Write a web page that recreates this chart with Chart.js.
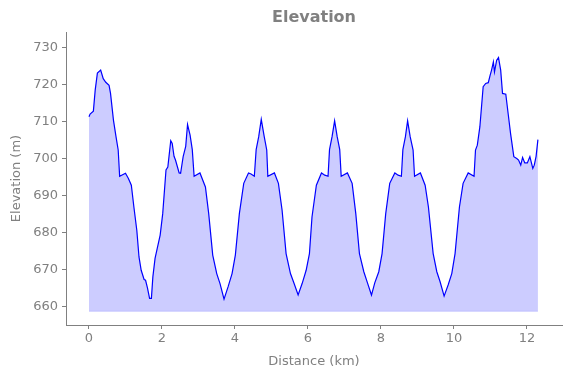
<!DOCTYPE html>
<html>
<head>
<meta charset="utf-8">
<script src="https://cdn.jsdelivr.net/npm/chart.js@4/dist/chart.umd.min.js"></script>
<style>
  html, body { margin: 0; padding: 0; background: #fff; }
  canvas { display: block; }
</style>
</head>
<body>
<canvas id="elevChart" width="571" height="378"></canvas>
<script>
// Distance along the track (km) and elevation (m)
var distances = [
  0.00, 0.03, 0.12, 0.17, 0.23, 0.32, 0.39, 0.46, 0.55, 0.59, 0.67, 0.74, 0.80, 0.84,
  1.00, 1.08, 1.16, 1.23, 1.31, 1.37, 1.43, 1.51, 1.55, 1.60, 1.66, 1.71, 1.75, 1.81,
  1.87, 1.95, 2.02, 2.11, 2.16, 2.24, 2.28, 2.33, 2.37, 2.47, 2.51, 2.58, 2.65, 2.70,
  2.77, 2.83, 2.88, 3.04, 3.19, 3.28, 3.39, 3.50, 3.59, 3.70, 3.81, 3.92, 4.01, 4.12,
  4.24, 4.37, 4.44, 4.53, 4.58, 4.65, 4.72, 4.80, 4.87, 4.90, 5.08, 5.19, 5.29, 5.40,
  5.52, 5.62, 5.73, 5.84, 5.95, 6.04, 6.11, 6.23, 6.37, 6.46, 6.55, 6.59, 6.66, 6.73,
  6.80, 6.87, 6.91, 7.08, 7.21, 7.31, 7.41, 7.53, 7.63, 7.74, 7.83, 7.94, 8.03, 8.13,
  8.24, 8.38, 8.47, 8.56, 8.60, 8.67, 8.73, 8.80, 8.88, 8.92, 9.08, 9.21, 9.30, 9.43,
  9.53, 9.62, 9.73, 9.84, 9.94, 10.03, 10.15, 10.25, 10.39, 10.55, 10.59, 10.64, 10.71,
  10.80, 10.87, 10.94, 10.99, 11.03, 11.08, 11.11, 11.17, 11.22, 11.28, 11.33, 11.42,
  11.49, 11.55, 11.64, 11.72, 11.77, 11.83, 11.88, 11.94, 12.01, 12.08, 12.16, 12.20,
  12.25, 12.30
];
var elevations = [
  711.2, 711.9, 712.7, 718.4, 723.0, 723.8, 721.5, 720.5, 719.7, 717.5, 710.3, 705.8, 702.2, 695.1,
  695.9, 694.5, 692.7, 686.8, 680.5, 673.3, 669.7, 667.2, 667.0, 665.0, 662.1, 662.1, 667.9, 672.9,
  675.6, 679.2, 685.0, 696.8, 697.6, 704.7, 704.0, 700.5, 699.5, 696.0, 695.9, 700.4, 703.2, 709.1,
  706.2, 702.3, 695.1, 696.0, 692.2, 685.0, 673.8, 668.8, 666.1, 661.9, 665.2, 668.8, 673.8, 685.0,
  693.2, 696.0, 695.7, 695.1, 702.3, 705.8, 710.5, 705.9, 702.2, 695.1, 696.0, 693.2, 686.0, 674.2,
  668.8, 666.1, 663.0, 666.1, 669.7, 674.2, 684.1, 692.7, 696.0, 695.4, 695.1, 702.3, 705.8, 710.1,
  705.8, 702.3, 695.1, 696.0, 693.2, 685.0, 674.2, 669.3, 666.3, 663.0, 666.3, 669.3, 674.2, 685.0,
  693.2, 696.0, 695.4, 695.1, 702.3, 705.8, 710.1, 705.8, 702.2, 695.1, 696.0, 692.7, 686.8, 674.2,
  669.3, 666.6, 662.7, 665.7, 668.8, 674.2, 686.8, 693.2, 696.0, 695.1, 702.2, 703.5, 708.5,
  719.3, 720.2, 720.4, 722.4, 723.8, 726.0, 723.3, 726.5, 727.2, 723.8, 717.5, 717.3,
  711.6, 706.7, 700.4, 699.9, 699.5, 698.1, 700.2, 698.7, 698.7, 700.4, 697.2, 698.1,
  700.5, 705.0
];
var fillBase = 658.6;
var xTicks = [0, 2, 4, 6, 8, 10, 12];
var yTicks = [660, 670, 680, 690, 700, 710, 720, 730];

var grey = '#808080';
var fontFamily = 'DejaVu Sans';

var points = distances.map(function(d, i) {
  return { x: d, y: elevations[i] };
});
var basePoints = [
  { x: distances[0], y: fillBase },
  { x: distances[distances.length - 1], y: fillBase }
];

// title centred over the plot area, like the original
var titlePlugin = {
  id: 'plotTitle',
  afterDraw: function(chart) {
    var ctx = chart.ctx;
    var area = chart.chartArea;
    ctx.save();
    ctx.font = 'bold 16px ' + fontFamily;
    ctx.fillStyle = grey;
    ctx.textAlign = 'center';
    ctx.textBaseline = 'middle';
    ctx.fillText('Elevation', (area.left + area.right) / 2, 18);
    ctx.restore();
  }
};

var ctx = document.getElementById('elevChart').getContext('2d');
var chart = new Chart(ctx, {
  type: 'line',
  data: {
    datasets: [{
      data: points,
      borderColor: '#0000ff',
      borderWidth: 1.2,
      backgroundColor: 'rgba(0, 0, 255, 0.2)',
      fill: { value: fillBase },
      pointRadius: 0,
      tension: 0
    }, {
      data: basePoints,
      borderColor: 'rgba(0, 0, 255, 0.15)',
      borderWidth: 1,
      pointRadius: 0,
      fill: false
    }]
  },
  options: {
    responsive: false,
    animation: false,
    layout: { padding: { top: 32, right: 9, left: 0, bottom: 0 } },
    plugins: {
      legend: { display: false },
      tooltip: { enabled: false },
      title: { display: false }
    },
    scales: {
      x: {
        type: 'linear',
        min: -0.63,
        max: 12.96,
        afterFit: function(scale) { scale.height = 53; },
        afterBuildTicks: function(scale) {
          scale.ticks = xTicks.map(function(v) { return { value: v }; });
        },
        ticks: {
          color: grey,
          font: { family: fontFamily, size: 13 },
          padding: 2,
          maxRotation: 0
        },
        grid: {
          drawOnChartArea: false,
          drawTicks: true,
          tickLength: 4,
          color: grey
        },
        border: { display: true, color: grey, width: 1 },
        title: {
          display: true,
          text: 'Distance (km)',
          color: grey,
          font: { family: fontFamily, size: 13 },
          padding: { top: 2, bottom: 9 }
        }
      },
      y: {
        type: 'linear',
        min: 654.9,
        max: 734.1,
        afterFit: function(scale) { scale.width = 66; },
        afterBuildTicks: function(scale) {
          scale.ticks = yTicks.map(function(v) { return { value: v }; });
        },
        ticks: {
          color: grey,
          font: { family: fontFamily, size: 13 },
          padding: 4
        },
        grid: {
          drawOnChartArea: false,
          drawTicks: true,
          tickLength: 4,
          color: grey
        },
        border: { display: true, color: grey, width: 1 },
        title: {
          display: true,
          text: 'Elevation (m)',
          color: grey,
          font: { family: fontFamily, size: 13 },
          padding: { top: 9, bottom: 0 }
        }
      }
    }
  },
  plugins: [titlePlugin]
});
</script>
</body>
</html>
